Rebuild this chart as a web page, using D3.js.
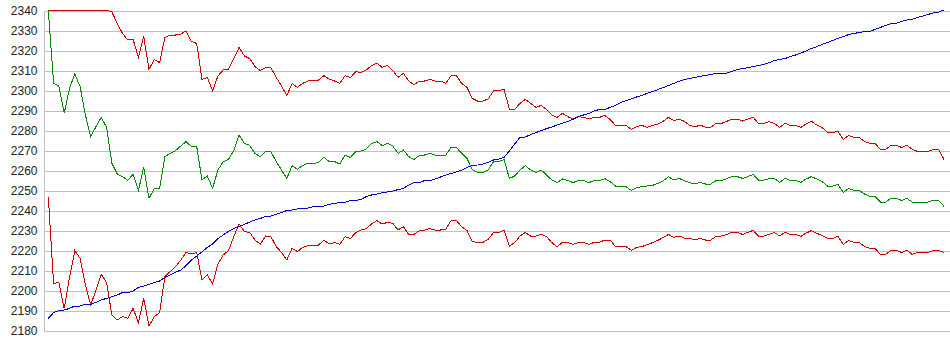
<!DOCTYPE html>
<html>
<head>
<meta charset="utf-8">
<title>Four series</title>
<script src="https://d3js.org/d3.v7.min.js"></script>
<style>
  body { margin: 0; padding: 0; background: #fff; }
  .grid line { stroke: #c0c0c0; }
  .grid .domain { stroke: #c0c0c0; }
  .grid text { fill: #222; font-family: "Liberation Sans", Arial, sans-serif; font-size: 12px; }
  .series { fill: none; stroke-width: 1px; }
</style>
</head>
<body>
<svg id="chart" width="950" height="355"></svg>
<script>
// y axis ticks
const yTicks = [2180, 2190, 2200, 2210, 2220, 2230, 2240, 2250, 2260, 2270, 2280, 2290, 2300, 2310, 2320, 2330, 2340];

// series values, one per sample (170 samples)
const redTop = [
  2340, 2340, 2340, 2340, 2340, 2340, 2340, 2340, 2340, 2340, 2340, 2340, 2339, 2333.3, 2328.3, 2325, 2325.3, 2316.3, 2326.7, 2310.3,
  2315.3, 2313.7, 2326.3, 2327.5, 2327.5, 2328, 2329.5, 2324.2, 2323.3, 2305.3, 2306.2, 2299.7, 2307, 2310, 2310.3, 2315.8, 2321.3, 2317, 2315.7, 2311.7,
  2309.7, 2311.2, 2311.2, 2306.3, 2302, 2297.2, 2303.3, 2301.3, 2303.3, 2304.5, 2304.7, 2305, 2307.2, 2305.5, 2304.5, 2303.3, 2307.2, 2306.2, 2309.2, 2308.7,
  2310, 2312.3, 2313.3, 2311.3, 2312.3, 2309.7, 2306.3, 2308.3, 2304.5, 2302.5, 2304.5, 2304.5, 2305.3, 2304.5, 2304.5, 2303.3, 2307.2, 2307.2, 2303.3, 2301.3,
  2295.8, 2294.5, 2294.5, 2295.5, 2299.5, 2299.7, 2300.3, 2290.3, 2290.3, 2293.3, 2295.3, 2293.3, 2291.3, 2292.3, 2290.3, 2287.5, 2286.3, 2288.3, 2286.7, 2285.5,
  2286.7, 2286.3, 2285.5, 2286.3, 2286.3, 2287.3, 2285.3, 2282.3, 2282.3, 2282.3, 2280.3, 2281.7, 2282.3, 2281.3, 2282.3, 2283, 2284.3, 2286.3, 2284.7, 2285.5,
  2284.3, 2282.3, 2281.5, 2282.5, 2281.3, 2281.3, 2283.3, 2283.3, 2284.3, 2285.5, 2285.5, 2284.5, 2285.5, 2286.3, 2283.3, 2283.3, 2284.2, 2283.3, 2281.3, 2283.3,
  2282.3, 2282.3, 2281.3, 2283, 2284.3, 2282.5, 2281.3, 2278.7, 2278.7, 2279.3, 2275.3, 2277.3, 2276.3, 2276.3, 2274.3, 2273.3, 2273.3, 2270.3, 2270.3, 2272.3,
  2272.3, 2271.3, 2272.3, 2270.3, 2269.3, 2269.3, 2269.3, 2270.3, 2270.3, 2265.3
];
const green = [
  2340, 2303.3, 2302, 2288.3, 2300.8, 2308, 2301.7, 2287.5, 2276.7, 2281.7, 2286.3, 2281.3, 2263.3, 2258, 2256.7, 2254.7, 2258, 2249.7, 2261.3, 2245.8,
  2250.8, 2250.8, 2266.7, 2268.3, 2269.7, 2272, 2274.2, 2271.7, 2271.7, 2255, 2257, 2250.8, 2260, 2264.2, 2265.3, 2269.7, 2277.5, 2273.3, 2272.3, 2268.3,
  2266.7, 2269.2, 2269.2, 2264.2, 2260, 2255.8, 2262.2, 2260.3, 2262.3, 2263.3, 2263.3, 2263.7, 2266.3, 2264.3, 2264.2, 2263, 2267.5, 2266.3, 2269.2, 2269.5,
  2270.5, 2273.3, 2274.2, 2272.2, 2273.3, 2272, 2268.3, 2270, 2266.7, 2265.3, 2267.2, 2267.5, 2268.3, 2267.5, 2267.5, 2267.5, 2271.3, 2271.3, 2268.3, 2265.8,
  2260.3, 2258.8, 2258.8, 2260, 2264.2, 2264.2, 2265.3, 2255.8, 2257, 2260, 2262.2, 2260, 2258.8, 2260, 2257.5, 2255, 2253.7, 2255.5, 2254.7, 2253.7,
  2254.7, 2254.7, 2253.7, 2254.7, 2254.7, 2255.7, 2254.2, 2252, 2252, 2251.7, 2249.8, 2251.2, 2251.7, 2252, 2252.3, 2253.3, 2254.5, 2256.7, 2255, 2255.8,
  2254.7, 2253.7, 2253, 2253.8, 2253, 2253, 2254.7, 2254.7, 2255.7, 2256.7, 2256.7, 2255.8, 2256.7, 2257.8, 2255, 2255, 2255.7, 2255.7, 2253.8, 2255.8,
  2254.8, 2254.8, 2253.8, 2255.5, 2256.7, 2255.5, 2254.2, 2252, 2252, 2252.8, 2248.8, 2250.7, 2249.8, 2249.7, 2248, 2246.8, 2246.8, 2244, 2244, 2245.8,
  2245.8, 2244.8, 2245.8, 2244, 2244, 2244, 2244, 2244.8, 2244.8, 2241.8
];
const redBottom = [
  2246.7, 2203.3, 2203.7, 2190.8, 2206.3, 2219.7, 2215.8, 2202.5, 2192.5, 2200, 2207.8, 2203.7, 2187.5, 2185, 2186.7, 2185.8, 2190.8, 2183.7, 2195.8, 2182,
  2186.7, 2188.7, 2206.7, 2209.2, 2211.7, 2215, 2218.8, 2218, 2218.7, 2205, 2207.5, 2203, 2213, 2217.5, 2219.7, 2226.7, 2233, 2229.2, 2228.8, 2225,
  2223, 2227, 2226.7, 2221.7, 2218.8, 2215, 2220.8, 2219.2, 2221.3, 2222.2, 2222.2, 2222.5, 2225, 2223, 2223.7, 2222.8, 2226.7, 2225.7, 2228.7, 2230,
  2230.7, 2233, 2234.7, 2233, 2233.8, 2233.3, 2230, 2231.7, 2227.8, 2227.8, 2229.7, 2230, 2230.7, 2230, 2230, 2230.5, 2234.7, 2234.7, 2231.7, 2229.7,
  2224.2, 2223.8, 2223.8, 2225.3, 2228.8, 2228.8, 2230, 2222, 2223.7, 2227, 2228.8, 2227, 2227, 2227.8, 2226.7, 2223.7, 2221.7, 2223.8, 2223.8, 2222.8,
  2223.8, 2223.8, 2222.8, 2223.8, 2223.8, 2225, 2225, 2221.8, 2221.8, 2221.7, 2219.8, 2221.3, 2221.7, 2222.7, 2223.7, 2224.8, 2226.2, 2227.8, 2226.3, 2227,
  2226, 2225.8, 2225, 2225.8, 2225, 2225, 2226.8, 2227, 2227.8, 2228.8, 2228.8, 2227.8, 2228.8, 2229.8, 2227, 2227, 2227.8, 2228.8, 2227, 2228.8,
  2227.8, 2227.8, 2226.8, 2228.5, 2229.7, 2228.3, 2227.3, 2225.8, 2225.8, 2226.8, 2222.8, 2224.8, 2223.8, 2223.8, 2221.8, 2220.8, 2220.8, 2217.8, 2217.8, 2219.8,
  2219.8, 2218.8, 2219.8, 2217.8, 2218.8, 2218.8, 2218.8, 2219.8, 2219.8, 2218.8
];
const blue = [
  2185.8, 2188.7, 2189.7, 2190, 2190.8, 2192, 2192, 2192.8, 2192.8, 2193.8, 2195, 2195.8, 2196.7, 2197.5, 2198.7, 2198.7, 2199.5, 2201.3, 2202, 2202.8,
  2203.7, 2204.5, 2206.3, 2207.5, 2208.8, 2210, 2212.2, 2215, 2217, 2219, 2221.3, 2223, 2225.7, 2227.5, 2229.3, 2230.7, 2231.8, 2232.8, 2234, 2235,
  2235.8, 2236.7, 2237, 2237.8, 2238.8, 2239.7, 2240, 2240.5, 2240.8, 2241, 2241.7, 2241.8, 2242, 2242.8, 2243.3, 2243.8, 2243.8, 2244.8, 2244.8, 2245.3,
  2246.7, 2247.5, 2248, 2248.7, 2249, 2249.5, 2250.2, 2250.8, 2252.5, 2253.7, 2253.7, 2254.7, 2254.7, 2255.5, 2256.5, 2257.5, 2258.3, 2259, 2260, 2261.3,
  2262.3, 2262.5, 2263, 2263.8, 2265, 2265.5, 2266.3, 2269.5, 2273, 2276.3, 2276.5, 2277.7, 2278.7, 2279.7, 2280.7, 2281.5, 2282.5, 2283.3, 2284.3, 2285.3,
  2286.7, 2287.5, 2288.3, 2289.5, 2290.3, 2290.3, 2291.3, 2292.3, 2293.7, 2294.7, 2295.5, 2296.5, 2297.3, 2298.3, 2299.3, 2300.2, 2301.2, 2302.2, 2303.3, 2304.3,
  2305.3, 2305.7, 2306.3, 2306.8, 2307.3, 2307.7, 2308.3, 2308.3, 2308.5, 2309.3, 2310.3, 2310.7, 2311.2, 2311.7, 2312.3, 2312.8, 2313.7, 2314.7, 2315.3, 2315.7,
  2316.7, 2317.5, 2318.5, 2319.5, 2320.8, 2321.7, 2322.8, 2323.7, 2324.8, 2325.8, 2326.7, 2327.7, 2328.3, 2328.7, 2329.2, 2329.3, 2330.3, 2331.3, 2332.3, 2333.2,
  2333.3, 2334.3, 2335, 2335.3, 2336.3, 2337, 2337.8, 2338.5, 2339, 2340
];

const seriesList = [
  { values: redTop, color: "#cc0000" },
  { values: green, color: "#008800" },
  { values: redBottom, color: "#cc0000" },
  { values: blue, color: "#0000cc" }
];

const svg = d3.select("#chart");
const W = +svg.attr("width");
const plotLeft = 43, plotRight = W, plotTop = 10, plotBottom = 330;

const x = d3.scaleLinear().domain([0, redTop.length - 1]).range([48.3, 944]);
const y = d3.scaleLinear().domain([2180, 2340]).range([plotBottom, plotTop]);

// gridlines + labels
const axis = svg.append("g")
    .attr("class", "grid")
    .attr("transform", `translate(${plotLeft + 0.5},0.5)`)
    .call(d3.axisLeft(y)
        .tickValues(yTicks)
        .tickFormat(d3.format("d"))
        .tickSizeInner(-(plotRight - plotLeft))
        .tickSizeOuter(0)
        .tickPadding(6));
axis.selectAll("line").attr("shape-rendering", "crispEdges");
axis.select(".domain").attr("shape-rendering", "crispEdges");
axis.selectAll("text").attr("dy", "0.35em");

const line = d3.line()
    .x((d, i) => x(i))
    .y(d => y(d));

svg.append("g").selectAll("path")
    .data(seriesList)
    .join("path")
    .attr("class", "series")
    .attr("stroke", d => d.color)
    .attr("shape-rendering", "crispEdges")
    .attr("d", d => line(d.values));
</script>
</body>
</html>
